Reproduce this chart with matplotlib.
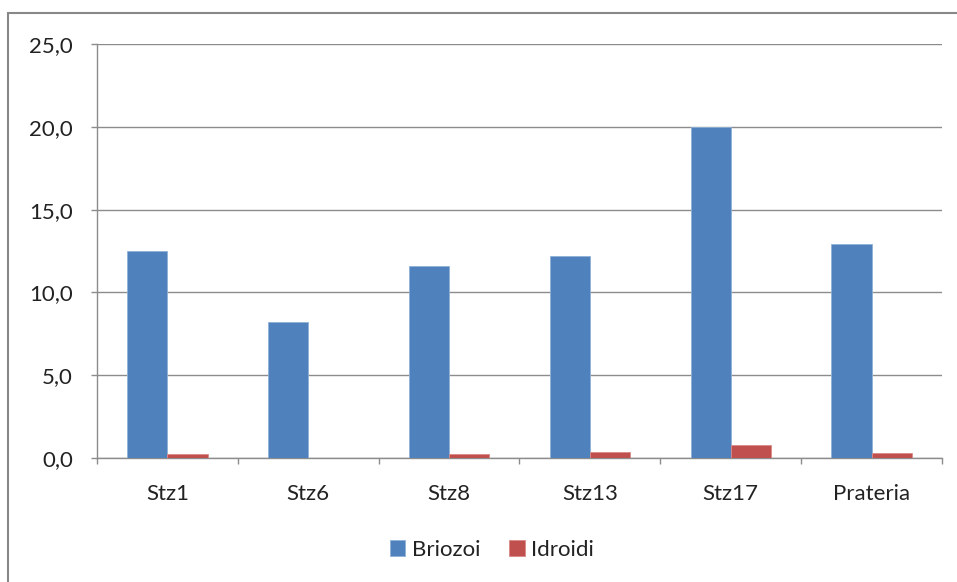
import matplotlib
matplotlib.use("Agg")
import matplotlib.pyplot as plt
import numpy as np
from matplotlib.patches import Rectangle
from matplotlib.ticker import FuncFormatter, MultipleLocator

categories = ["Stz1", "Stz6", "Stz8", "Stz13", "Stz17", "Prateria"]
briozoi = [12.5, 8.2, 11.6, 12.2, 20.0, 12.9]
idroidi = [0.22, 0.0, 0.22, 0.38, 0.77, 0.28]
series_names = ["Briozoi", "Idroidi"]

plt.rcParams['font.family'] = ['Lato', 'DejaVu Sans']

W, H = 957, 582
fig = plt.figure(figsize=(W/100, H/100), dpi=100)
fig.patches.append(Rectangle((8/W, -0.1), 1.2, 1 - 13/H + 0.1, transform=fig.transFigure,
                             fill=False, edgecolor='#888888', linewidth=1.5))
ax = fig.add_axes([97/W, 1 - 458/H, (942-97)/W, (458-44)/H])

x = np.arange(len(categories))
w = 1/3.5
blue = '#4F81BD'
red = '#C0504D'
ax.bar(x - w/2, briozoi, w, color=blue, edgecolor='#8fb0d8', linewidth=0.6, label=series_names[0], zorder=3)
ax.bar(x + w/2, idroidi, w, color=red, edgecolor='#d88a88', linewidth=0.6, label=series_names[1], zorder=3)

ax.set_xlim(-0.5, len(categories) - 0.5)
ax.set_ylim(0, 25)
ax.yaxis.set_major_locator(MultipleLocator(5))
ax.yaxis.set_major_formatter(FuncFormatter(lambda v, p: f"{v:.1f}".replace('.', ',')))
ax.grid(axis='y', color='#8c8c8c', linewidth=1.0, zorder=0)

fs = 16
ax.set_xticks(x)
ax.set_xticklabels(categories)
ax.set_xticks(np.arange(-0.5, len(categories)), minor=True)
ax.tick_params(axis='x', which='major', length=0, pad=19, labelsize=fs, colors='#222222')
ax.tick_params(axis='x', which='minor', length=4.3, color='#8c8c8c', width=1.0)
ax.tick_params(axis='y', length=4.3, color='#8c8c8c', width=1.0, pad=13, labelsize=fs, labelcolor='#222222')

for s in ['top', 'right']:
    ax.spines[s].set_visible(False)
for s in ['left', 'bottom']:
    ax.spines[s].set_color('#8c8c8c')
    ax.spines[s].set_linewidth(1.0)

leg = fig.legend(loc='center', bbox_to_anchor=(492/W, 1 - 550/H), ncol=2, frameon=False,
                 fontsize=fs, handlelength=0.7, handleheight=0.7, handletextpad=0.3,
                 columnspacing=1.3)
for t in leg.get_texts():
    t.set_color('#222222')

fig.savefig("out.png", dpi=100)
